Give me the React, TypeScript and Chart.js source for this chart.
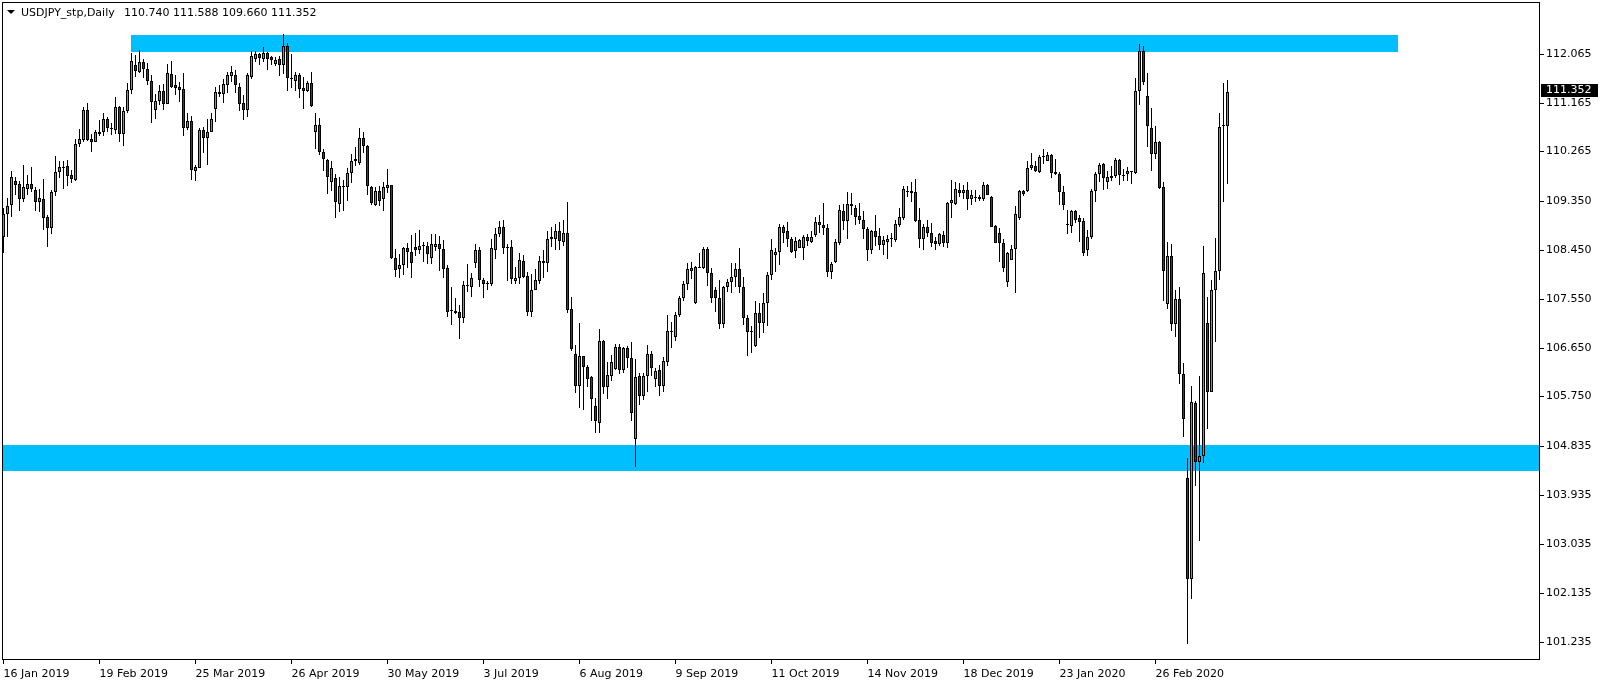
import React, { useEffect, useRef } from 'react';
import { Chart, registerables } from 'chart.js';

Chart.register(...registerables);

// ---- Data (USDJPY daily, bar 0 = 16 Jan 2019) ----
const opens = [
  108.69,109.11,109.27,109.72,109.66,109.38,109.57,109.66,109.55,109.33,
  109.38,109.05,108.86,109.52,109.88,109.96,109.99,109.83,109.74,110.40,
  110.47,111.02,110.49,110.44,110.59,110.63,110.86,110.70,110.65,111.08,
  110.59,111.00,111.40,111.85,111.73,111.91,111.78,111.56,111.03,111.20,
  111.37,111.14,111.69,111.49,111.45,111.41,110.70,110.82,109.91,109.96,
  110.65,110.52,110.63,111.04,111.33,111.33,111.49,111.66,111.68,111.46,
  111.16,111.02,111.64,111.97,112.05,111.97,112.08,112.00,111.88,111.97,
  111.86,112.20,111.62,111.56,111.67,111.43,111.38,111.52,110.62,110.75,
  110.25,110.11,109.71,109.77,109.30,109.62,109.60,109.86,110.12,110.06,
  110.51,110.37,109.61,109.27,109.53,109.38,109.59,109.64,108.30,108.09,
  108.17,108.49,108.42,108.50,108.44,108.52,108.52,108.31,108.51,108.56,
  108.46,108.11,107.34,107.33,107.31,107.19,107.79,107.77,108.20,108.45,
  107.90,107.82,107.83,108.44,108.74,108.87,108.48,108.50,107.87,107.93,
  108.25,107.97,107.30,107.72,107.87,108.25,108.20,108.65,108.65,108.79,
  108.60,108.76,107.36,106.54,105.95,106.50,106.29,106.10,105.58,105.26,
  106.77,105.92,106.12,106.26,106.66,106.23,106.64,106.45,104.97,106.13,
  105.75,106.12,106.53,106.08,106.24,105.95,106.39,106.93,106.84,107.26,
  107.56,107.82,108.07,107.48,108.12,108.12,108.46,108.03,107.71,107.56,
  107.08,107.77,107.85,107.96,108.09,107.76,107.19,106.93,106.68,107.28,
  107.10,107.47,107.99,108.36,108.42,108.88,108.79,108.66,108.43,108.49,
  108.49,108.69,108.60,108.72,108.96,108.90,108.85,108.05,108.23,108.57,
  109.17,108.99,109.30,109.22,109.07,109.01,108.83,108.44,108.80,108.71,
  108.54,108.60,108.65,108.63,108.91,109.04,109.52,109.54,109.52,109.00,
  108.65,108.88,108.77,108.61,108.56,108.72,108.57,109.31,109.30,109.55,
  109.49,109.55,109.38,109.41,109.39,109.38,109.65,109.42,108.89,108.76,
  108.57,107.85,108.26,108.46,109.03,109.54,109.54,109.95,110.00,109.89,
  110.16,110.09,110.20,109.88,109.85,109.51,108.92,108.89,109.17,109.04,
  108.98,108.44,108.68,109.54,109.85,110.03,109.71,109.78,109.81,110.10,
  109.82,109.84,109.88,109.87,111.37,112.11,111.28,110.69,110.21,110.44,
  109.60,107.45,108.33,107.09,107.54,106.17,104.24,102.39,105.63,104.55,
  104.65,107.11,105.83,107.71,108.07,110.74,110.740,
];

const highs = [
  109.22,109.41,109.90,109.80,109.72,110.01,109.83,109.97,109.61,109.57,
  109.75,109.09,109.55,110.18,110.08,110.08,110.11,109.92,110.49,110.68,
  111.09,111.16,110.59,110.66,110.84,110.97,110.90,110.78,111.27,111.11,
  111.09,111.53,112.07,112.04,112.14,111.97,111.89,111.67,111.32,111.48,
  111.50,111.87,111.93,111.67,111.54,111.70,110.97,110.91,110.01,110.70,
  110.71,110.86,110.97,111.46,111.48,111.60,111.72,111.83,111.76,111.52,
  111.31,111.71,112.11,112.11,112.07,112.19,112.09,112.03,112.00,112.03,
  112.43,112.26,112.06,111.72,111.71,111.63,111.56,111.73,110.97,110.88,
  110.30,110.12,110.08,109.84,109.79,109.73,109.96,110.22,110.35,110.70,
  110.63,110.39,109.62,109.60,109.63,109.70,109.94,109.65,108.47,108.37,
  108.51,108.58,108.73,108.76,108.81,108.60,108.60,108.74,108.74,108.71,
  108.63,108.17,107.77,107.56,107.44,107.87,108.19,108.02,108.56,108.50,
  107.93,107.87,108.66,108.85,108.98,109.01,108.55,108.63,108.13,108.40,
  108.36,108.05,108.01,108.10,108.33,108.45,108.79,108.87,108.93,108.96,
  109.01,109.33,107.58,106.70,107.10,106.50,106.33,106.12,105.72,106.99,
  106.79,106.39,106.52,106.72,106.72,106.67,106.68,106.76,106.44,106.19,
  106.19,106.70,106.59,106.27,106.33,106.48,107.25,107.13,107.31,107.60,
  107.88,108.20,108.22,108.15,108.39,108.51,108.51,108.11,107.76,107.90,
  107.79,107.91,108.20,108.20,108.48,107.96,107.25,107.04,107.50,107.47,
  107.65,108.05,108.65,108.48,108.93,108.90,108.96,108.68,108.68,108.65,
  108.72,108.74,108.79,109.06,109.09,109.31,108.93,108.23,108.66,109.28,
  109.30,109.52,109.50,109.28,109.31,109.17,108.88,108.82,109.09,108.85,
  108.71,108.73,108.77,109.00,109.22,109.63,109.62,109.71,109.75,109.22,
  108.92,109.01,108.94,108.69,108.76,108.80,109.33,109.74,109.70,109.68,
  109.65,109.70,109.55,109.55,109.47,109.70,109.66,109.44,108.91,108.85,
  108.66,108.42,108.54,109.26,109.55,109.55,110.08,110.23,110.08,110.20,
  110.30,110.26,110.22,110.12,109.89,109.62,109.19,109.19,109.19,109.09,
  109.03,108.82,109.57,109.89,110.05,110.06,109.90,109.99,110.15,110.12,
  109.94,109.97,109.90,111.61,112.25,112.21,111.71,111.06,110.73,110.46,
  109.70,108.60,108.56,107.72,107.77,106.37,104.62,105.94,105.67,106.12,
  108.52,107.59,107.89,108.67,110.98,111.53,111.588,
];

const lows = [
  108.39,108.69,109.06,109.47,109.16,109.34,109.46,109.52,109.17,109.14,
  108.82,108.51,108.74,109.45,109.77,109.57,109.62,109.68,109.72,110.35,
  110.44,110.46,110.26,110.43,110.55,110.54,110.63,110.57,110.58,110.43,
  110.37,110.97,111.33,111.64,111.70,111.62,111.48,110.78,110.86,111.12,
  111.02,111.13,111.43,111.30,111.17,110.55,110.65,109.74,109.72,109.95,
  110.23,110.01,110.62,110.81,111.26,111.16,111.34,111.54,111.34,111.00,
  110.85,110.90,111.60,111.91,111.86,111.91,111.77,111.86,111.84,111.66,
  111.69,111.38,111.43,111.37,111.25,111.05,111.35,111.08,110.30,110.19,
  109.91,109.48,109.53,109.03,109.15,109.17,109.35,109.68,109.99,110.02,
  110.24,109.47,109.28,109.25,109.26,109.16,109.49,108.29,107.96,107.93,
  107.99,108.12,107.93,108.33,108.37,108.23,108.19,108.19,108.43,108.07,
  107.93,107.22,107.07,107.27,106.80,107.11,107.68,107.58,108.11,107.77,
  107.56,107.72,107.79,108.29,108.69,108.37,107.88,107.82,107.82,107.83,
  107.93,107.23,107.22,107.71,107.83,107.94,108.05,108.51,108.44,108.45,
  108.52,107.28,106.58,105.81,105.53,105.50,105.92,105.30,105.07,105.08,
  105.80,105.71,106.04,106.23,106.16,106.19,106.27,105.29,104.45,105.59,
  105.69,105.84,106.12,105.93,105.75,105.84,106.32,106.64,106.78,107.22,
  107.50,107.72,107.91,107.45,108.11,108.09,107.79,107.48,107.31,106.99,
  107.01,107.68,107.66,107.76,107.66,107.07,106.50,106.56,106.67,106.82,
  106.92,107.04,107.90,108.05,108.17,108.57,108.51,108.40,108.31,108.48,
  108.26,108.52,108.57,108.68,108.77,108.73,107.95,107.91,108.20,108.54,
  108.82,108.65,109.09,108.91,108.92,108.66,108.25,108.38,108.52,108.45,
  108.36,108.28,108.50,108.60,108.88,109.01,109.42,109.34,108.97,108.48,
  108.44,108.68,108.50,108.44,108.53,108.50,108.48,109.03,109.28,109.43,
  109.38,109.19,109.28,109.34,109.36,109.36,109.46,108.87,108.57,108.22,
  108.05,107.77,108.26,107.66,109.00,109.44,109.52,109.92,109.89,109.86,
  110.04,110.08,109.77,109.83,109.28,109.19,108.74,108.76,108.94,108.60,
  108.33,108.33,108.66,109.34,109.71,109.55,109.58,109.72,109.77,109.64,
  109.72,109.72,109.66,109.85,111.12,111.48,110.35,109.90,110.13,109.58,
  107.50,107.36,106.95,106.85,105.98,105.01,101.19,102.02,104.11,103.09,
  104.53,105.16,105.83,106.76,107.89,109.34,109.660,
];

const closes = [
  109.11,109.25,109.79,109.65,109.38,109.60,109.66,109.57,109.34,109.40,
  109.04,108.86,109.52,109.88,109.98,109.98,109.82,109.76,110.40,110.49,
  111.02,110.47,110.44,110.62,110.63,110.86,110.70,110.67,111.08,110.59,
  111.00,111.39,111.93,111.75,111.91,111.78,111.56,111.18,111.20,111.37,
  111.14,111.70,111.45,111.44,111.40,110.70,110.82,109.93,109.97,110.65,
  110.52,110.63,110.86,111.35,111.35,111.51,111.67,111.72,111.48,111.14,
  111.02,111.67,112.02,112.05,111.99,112.08,111.97,111.94,111.94,111.86,
  112.20,111.62,111.59,111.67,111.42,111.38,111.52,111.10,110.76,110.25,
  110.12,109.79,109.96,109.33,109.62,109.60,109.86,110.08,110.08,110.51,
  110.36,109.62,109.31,109.53,109.36,109.60,109.64,108.30,108.08,108.17,
  108.49,108.41,108.21,108.44,108.53,108.54,108.37,108.56,108.56,108.46,
  108.10,107.31,107.33,107.28,107.19,107.80,107.80,107.94,108.45,107.90,
  107.82,107.83,108.48,108.74,108.87,108.48,108.51,107.91,107.93,108.26,
  107.96,107.30,107.72,107.90,108.25,108.20,108.65,108.69,108.80,108.61,
  108.76,107.34,106.62,105.95,106.50,106.29,106.08,105.70,105.30,106.77,
  105.93,106.14,106.38,106.66,106.23,106.64,106.45,105.44,106.11,105.75,
  106.13,106.53,106.28,106.22,105.95,106.40,106.96,106.96,107.26,107.56,
  107.83,108.09,108.11,108.13,108.14,108.46,108.03,107.57,107.56,107.08,
  107.77,107.85,107.95,108.09,107.76,107.19,106.93,106.93,107.28,107.11,
  107.48,107.99,108.45,108.42,108.87,108.77,108.66,108.42,108.62,108.63,
  108.69,108.62,108.68,108.97,108.90,108.85,108.05,108.19,108.59,109.19,
  108.99,109.30,109.25,109.06,109.00,108.83,108.44,108.80,108.68,108.54,
  108.63,108.65,108.66,108.92,109.05,109.57,109.54,109.50,108.99,108.65,
  108.87,108.77,108.58,108.56,108.74,108.57,109.31,109.37,109.57,109.49,
  109.55,109.38,109.46,109.42,109.43,109.65,109.47,108.88,108.58,108.58,
  108.11,108.39,108.46,109.12,109.54,109.48,109.95,110.01,109.91,110.16,
  110.18,110.19,109.87,109.85,109.51,109.28,108.90,109.17,109.01,108.97,
  108.39,108.68,109.54,109.85,110.01,109.77,109.79,109.81,110.10,109.83,
  109.81,109.90,109.89,111.37,112.11,111.55,110.73,110.21,110.44,109.59,
  108.07,108.33,107.09,107.54,106.17,105.33,102.39,105.64,104.55,104.65,
  108.02,105.83,107.71,108.06,110.72,110.75,111.352,
];

const dateLabels = [
  '16 Jan 2019', '19 Feb 2019', '25 Mar 2019', '26 Apr 2019', '30 May 2019',
  '3 Jul 2019', '6 Aug 2019', '9 Sep 2019', '11 Oct 2019', '14 Nov 2019',
  '18 Dec 2019', '23 Jan 2020', '26 Feb 2020',
];
const dateLabelBars = [0, 24, 48, 72, 96, 120, 144, 168, 192, 216, 240, 264, 288];

const priceTicks = [
  112.065, 111.165, 110.265, 109.35, 108.45, 107.55, 106.65,
  105.75, 104.835, 103.935, 103.035, 102.135, 101.235,
];

const resistanceZone = [112.096, 112.415];
const resistanceBars = [31.875, 348.725];
const supportZone = [104.381, 104.863];

const symbolTitle = 'USDJPY_stp,Daily';

// ---- Styling ----
const FONT = '"DejaVu Sans", "Noto Sans", sans-serif';
const bullColor = '#32cd32';
const bearColor = '#d00000';
const zoneColor = '#00bfff';

const mt4Plugin = {
  id: 'mt4',
  beforeDatasetsDraw(chart: any) {
    const { ctx, chartArea: a, scales } = chart;
    const x = scales.x, y = scales.y;
    ctx.save();
    ctx.beginPath();
    ctx.rect(a.left, a.top, a.right - a.left, a.bottom - a.top);
    ctx.clip();
    ctx.fillStyle = zoneColor;
    const rx1 = Math.round(x.getPixelForValue(resistanceBars[0]));
    const rx2 = Math.round(x.getPixelForValue(resistanceBars[1]));
    const ry1 = Math.round(y.getPixelForValue(resistanceZone[1]));
    const ry2 = Math.round(y.getPixelForValue(resistanceZone[0]));
    ctx.fillRect(rx1, ry1, rx2 - rx1, ry2 - ry1);
    const sy1 = Math.round(y.getPixelForValue(supportZone[1]));
    const sy2 = Math.round(y.getPixelForValue(supportZone[0]));
    ctx.fillRect(a.left, sy1, a.right - a.left, sy2 - sy1);
    ctx.restore();
  },
  afterDraw(chart: any) {
    const { ctx, chartArea: a, scales } = chart;
    const y = scales.y;
    ctx.save();
    // frame
    ctx.fillStyle = '#000';
    const L = Math.round(a.left), T = Math.round(a.top), R = Math.round(a.right), B = Math.round(a.bottom);
    ctx.fillRect(L, T, R - L, 1);
    ctx.fillRect(L, B - 1, R - L, 1);
    ctx.fillRect(L, T, 1, B - T);
    ctx.fillRect(R - 1, T, 1, B - T);
    // header
    ctx.beginPath();
    ctx.moveTo(7, 10);
    ctx.lineTo(15, 10);
    ctx.lineTo(11, 14);
    ctx.closePath();
    ctx.fill();
    ctx.font = '11px ' + FONT;
    ctx.textBaseline = 'middle';
    ctx.textAlign = 'left';
    const last = closes.length - 1;
    ctx.fillText(symbolTitle, 21, 13.5);
    const ohlc = [opens[last], highs[last], lows[last], closes[last]].map(v => v.toFixed(3)).join(' ');
    ctx.fillText(ohlc, 124, 13.5);
    // current price box
    const py = Math.round(y.getPixelForValue(closes[last]));
    ctx.fillStyle = '#000';
    ctx.fillRect(R + 1, py - 8, 57, 13);
    ctx.fillStyle = '#fff';
    ctx.fillText(closes[last].toFixed(3), R + 6, py - 1.5);
    ctx.restore();
  },
};

export default function App() {
  const ref = useRef<HTMLCanvasElement>(null);
  useEffect(() => {
    const canvas = ref.current;
    if (!canvas) return;
    Chart.defaults.font.family = FONT;
    Chart.defaults.font.size = 11;
    Chart.defaults.color = '#000';
    const idx = closes.map((_, i) => i);
    const bodies = idx.map(i => ({ x: i, y: [opens[i], closes[i]] }));
    const wicks = idx.map(i => ({ x: i, y: [lows[i], highs[i]] }));
    const bodyColors = idx.map(i => (closes[i] >= opens[i] ? bullColor : bearColor));
    const chart = new Chart(canvas, {
      type: 'bar',
      data: {
        datasets: [
          {
            label: 'body',
            data: bodies as any,
            backgroundColor: bodyColors,
            borderColor: '#000',
            borderWidth: 1,
            borderSkipped: false,
            barThickness: 3,
            grouped: false,
            minBarLength: 1,
            inflateAmount: 0,
            order: 0,
          } as any,
          {
            label: 'wick',
            data: wicks as any,
            backgroundColor: '#000',
            borderWidth: 0,
            barThickness: 1,
            grouped: false,
            minBarLength: 1,
            inflateAmount: 0,
            order: 1,
          } as any,
        ],
      },
      options: {
        responsive: false,
        animation: false,
        devicePixelRatio: 1,
        events: [],
        layout: { padding: { left: 2, top: 2, right: 0, bottom: 0 } },
        plugins: { legend: { display: false }, tooltip: { enabled: false } },
        scales: {
          x: {
            type: 'linear',
            position: 'bottom',
            min: -0.375,
            max: 384.125,
            offset: false,
            grid: { display: true, drawOnChartArea: false, drawTicks: true, tickLength: 4, color: '#000', offset: false },
            border: { display: false },
            ticks: {
              autoSkip: false,
              maxRotation: 0,
              minRotation: 0,
              align: 'start',
              padding: 4,
              color: '#000',
              font: { family: FONT, size: 11 },
              callback: (_v: any, i: number) => dateLabels[i] ?? '',
            },
            afterBuildTicks: (s: any) => { s.ticks = dateLabelBars.map(v => ({ value: v })); },
            afterFit: (s: any) => { s.height = 23; s.paddingLeft = 0; s.paddingRight = 0; },
          } as any,
          y: {
            type: 'linear',
            position: 'right',
            min: 100.896,
            max: 113.017,
            beginAtZero: false,
            alignToPixels: true,
            grid: { display: true, drawOnChartArea: false, drawTicks: true, tickLength: 4, color: '#000' },
            border: { display: false },
            ticks: {
              padding: 2,
              crossAlign: 'near',
              color: '#000',
              font: { family: FONT, size: 11 },
              callback: (v: any) => Number(v).toFixed(3),
            },
            afterBuildTicks: (s: any) => { s.ticks = priceTicks.map(v => ({ value: v })); },
            afterFit: (s: any) => { s.width = 64; s.paddingTop = 0; s.paddingBottom = 0; },
          } as any,
        },
      },
      plugins: [mt4Plugin as any],
    });
    return () => chart.destroy();
  }, []);
  return (
    <div style={{ position: 'fixed', left: 0, top: 0, width: 1604, height: 683, background: '#fff' }}>
      <canvas ref={ref} width={1604} height={683} style={{ display: 'block' }} />
    </div>
  );
}
